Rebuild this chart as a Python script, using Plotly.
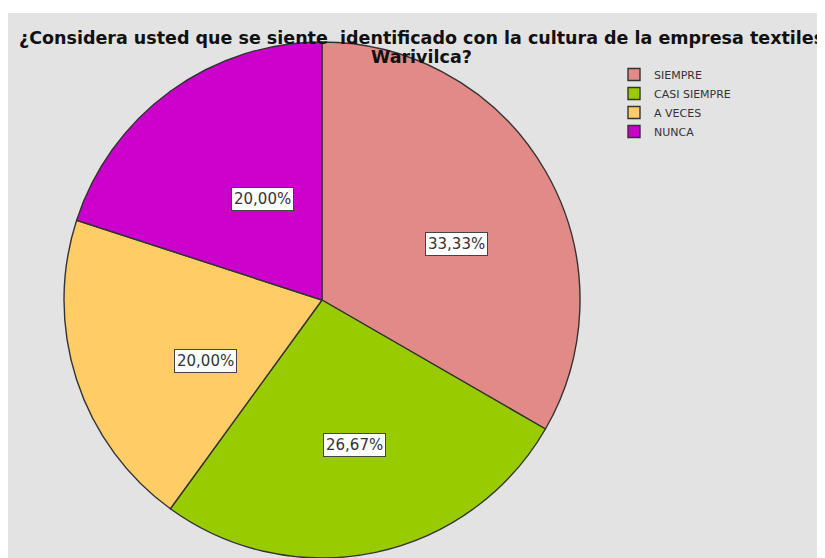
import math
import plotly.graph_objects as go

# answers and counts (15 respondents)
categorias = ['SIEMPRE', 'CASI SIEMPRE', 'A VECES', 'NUNCA']
frecuencias = [5, 4, 3, 3]
colores = ['#E28A88', '#99CC00', '#FFCC66', '#CC00CC']

titulo_1 = '¿Considera usted que se siente  identificado con la cultura de la empresa textiles'
titulo_2 = 'Warivilca?'

# the page body adds an 8px margin, so the figure is 8px smaller
OFF = 8
W, H = 825 - OFF, 558 - OFF


def px(sx):
    return (sx - OFF) / W


def py(sy):
    return 1 - (sy - OFF) / H


cx, cy, rad = 322, 300, 258   # pie centre / radius in screen px

fig = go.Figure(go.Pie(
    labels=categorias, values=frecuencias,
    marker=dict(colors=colores, line=dict(color='#333333', width=1.4)),
    sort=False, direction='clockwise', rotation=0,
    textinfo='none', hoverinfo='label+percent',
    domain=dict(x=[px(cx - rad), px(cx + rad)],
                y=[max(py(cy + rad), 0), py(cy - rad)]),
))

# boxed percentage labels at the middle angle of each slice
fuente = 'DejaVu Sans, Verdana, sans-serif'
total = sum(frecuencias)
acum = 0
for v in frecuencias:
    mid = (acum + v / 2) / total * 2 * math.pi
    acum += v
    lx = 322 + 0.53 * 293 * math.sin(mid)
    ly = 316 - 0.53 * 272 * math.cos(mid)
    txt = f'{100 * v / total:.2f}%'.replace('.', ',')
    fig.add_annotation(x=px(lx), y=py(ly), xref='paper', yref='paper',
                       text=txt, showarrow=False,
                       font=dict(family=fuente, size=15, color='#333333'),
                       bgcolor='white', bordercolor='#444444', borderwidth=1, borderpad=2)

fig.add_annotation(x=px(421), y=py(38), xref='paper', yref='paper', text=f'<b>{titulo_1}</b>',
                   showarrow=False, xanchor='center', yanchor='middle',
                   font=dict(family=fuente, size=17.5, color='#111111'))
fig.add_annotation(x=px(421), y=py(57), xref='paper', yref='paper', text=f'<b>{titulo_2}</b>',
                   showarrow=False, xanchor='center', yanchor='middle',
                   font=dict(family=fuente, size=17.5, color='#111111'))

# grey chart frame like the SPSS output
fig.add_shape(type='rect', xref='paper', yref='paper', layer='below',
              x0=0, x1=1, y0=0, y1=py(13),
              fillcolor='#E3E3E3', line=dict(width=0))

fig.update_layout(
    width=W, height=H,
    margin=dict(l=0, r=0, t=0, b=0),
    paper_bgcolor='white',
    showlegend=True,
    legend=dict(x=px(614), y=py(60), xanchor='left', yanchor='top',
                bgcolor='rgba(0,0,0,0)',
                font=dict(family=fuente, size=11, color='#333333'),
                tracegroupgap=0),
)

fig.write_html('out.html')
